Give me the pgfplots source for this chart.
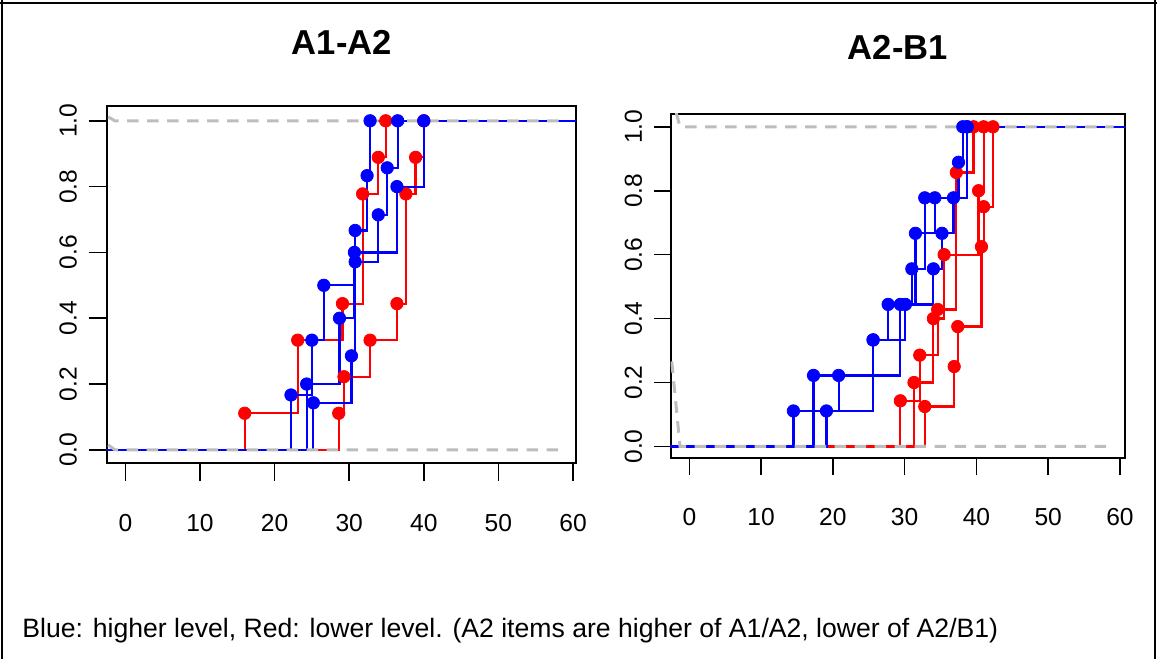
\documentclass[border=0pt]{standalone}
\usepackage{pgfplots}
\pgfplotsset{compat=1.18}
\usepackage{pgfplotstable}
\usepackage{fontspec}
\setmainfont{Liberation Sans}

\definecolor{gray70}{rgb}{0.74,0.74,0.74}

% ---- A1-A2: ecdf steps (x = score, y = cumulative share) ----
\pgfplotstableread{
x y
-5 0
16.0 0.1111
23.1 0.3333
29.1 0.4444
31.8 0.7778
33.9 0.8889
34.9 1
65 1
}\aRedA
\pgfplotstableread{
x y
-5 0
28.6 0.1111
29.3 0.2222
32.8 0.3333
36.4 0.4444
37.6 0.7778
38.9 0.8889
40.0 1
65 1
}\aRedB
\pgfplotstableread{
x y
-5 0
22.2 0.1667
25.0 0.3333
26.6 0.5
30.8 0.6667
32.4 0.8333
32.8 1
65 1
}\aBlueA
\pgfplotstableread{
x y
-5 0
24.3 0.2
28.7 0.4
30.7 0.6
36.4 0.8
40.0 1
65 1
}\aBlueB
\pgfplotstableread{
x y
-5 0
25.2 0.1429
30.3 0.2857
30.8 0.5714
33.9 0.7143
35.1 0.8571
36.5 1
65 1
}\aBlueC

% ---- A2-B1 ----
\pgfplotstableread{
x y
-5 0
29.4 0.1429
32.1 0.2857
34.6 0.4286
37.2 0.8571
39.6 1
65 1
}\bRedA
\pgfplotstableread{
x y
-5 0
31.3 0.2
34.0 0.4
35.5 0.6
40.3 0.8
41.0 1
65 1
}\bRedB
\pgfplotstableread{
x y
-5 0
32.8 0.125
36.9 0.25
37.4 0.375
40.7 0.625
41.0 0.75
42.3 1
65 1
}\bRedC
\pgfplotstableread{
x y
-5 0
14.5 0.1111
25.6 0.3333
27.7 0.4444
31.0 0.5556
32.8 0.7778
37.5 0.8889
38.1 1
65 1
}\bBlueA
\pgfplotstableread{
x y
-5 0
17.3 0.2222
25.6 0.3333
30.1 0.4444
34.0 0.5556
35.2 0.6667
36.8 0.7778
38.7 1
65 1
}\bBlueB
\pgfplotstableread{
x y
-5 0
19.1 0.1111
20.8 0.2222
29.4 0.4444
31.5 0.6667
34.2 0.7778
38.7 1
65 1
}\bBlueC

\pgfplotsset{
  rbox/.style={
    scale only axis,
    axis line style={line width=0.9pt},
    tick align=outside,
    xtick pos=left, ytick pos=left,
    major tick length=9pt,
    tick style={line width=0.8pt, black},
    xtick={0,10,20,30,40,50,60},
    xticklabels={0,10,20,30,40,50,60},
    ytick={0,0.2,0.4,0.6,0.8,1},
    yticklabels={0.0,0.2,0.4,0.6,0.8,1.0},
    ticklabel style={font=\fontsize{12.3}{14}\selectfont},
    xticklabel style={anchor=base, yshift=-25pt},
    yticklabel style={xshift=-6pt, rotate=90, anchor=base},
    title style={font=\bfseries\fontsize{17.3}{20}\selectfont, anchor=base},
  },
  step/.style={const plot, line width=1.1pt, draw=#1, mark=none},
  dots/.style={only marks, mark=*, mark size=3.1pt,
    mark options={fill=#1, draw=#1}, restrict x to domain=0:60},
  ref01/.style={gray70, line width=1.5pt, dash pattern=on 5.8pt off 4.2pt, mark=none},
}

\begin{document}
\begin{tikzpicture}
\path[use as bounding box] (0,0) rectangle (578.5pt,329.5pt);
\draw[line width=1.4pt] (0,328pt) -- (578.5pt,328pt);
\draw[line width=1pt] (1pt,0) -- (1pt,329.5pt);
\draw[line width=1pt] (577.6pt,0) -- (577.6pt,329.5pt);

\begin{axis}[rbox,
  at={(53.35pt,98pt)}, anchor=south west,
  width=234.65pt, height=178.5pt,
  xmin=-2.5, xmax=60.4, ymin=-0.04, ymax=1.045,
  title={A1-A2}, title style={at={(0.501,1.112)}},
]
\addplot[step=red] table {\aRedA};
\addplot[step=red] table {\aRedB};
\addplot[step=blue] table {\aBlueA};
\addplot[step=blue] table {\aBlueB};
\addplot[step=blue] table {\aBlueC};
\addplot[dots=red] table {\aRedA};
\addplot[dots=red] table {\aRedB};
\addplot[dots=blue] table {\aBlueA};
\addplot[dots=blue] table {\aBlueB};
\addplot[dots=blue] table {\aBlueC};
\addplot[ref01] coordinates {(-2.3,0.015) (-1.4,0) (58.6,0)};
\addplot[ref01] coordinates {(-2.3,1.012) (-1.4,1) (58.6,1)};
\end{axis}

\begin{axis}[rbox,
  at={(335.35pt,100.35pt)}, anchor=south west,
  width=227.15pt, height=172.15pt,
  xmin=-2.6, xmax=60.7, ymin=-0.037, ymax=1.04,
  major tick length=8.4pt,
  title={A2-B1}, title style={at={(0.5,1.122)}},
]
\addplot[step=red] table {\bRedA};
\addplot[step=red] table {\bRedB};
\addplot[step=red] table {\bRedC};
\addplot[step=blue] table {\bBlueA};
\addplot[step=blue] table {\bBlueB};
\addplot[step=blue] table {\bBlueC};
\addplot[dots=red] table {\bRedA};
\addplot[dots=red] table {\bRedB};
\addplot[dots=red] table {\bRedC};
\addplot[dots=blue] table {\bBlueA};
\addplot[dots=blue] table {\bBlueB};
\addplot[dots=blue] table {\bBlueC};
\addplot[ref01] coordinates {(-2.45,0.266) (-1.3,0) (59.1,0)};
\addplot[ref01] coordinates {(-1.85,1.045) (-1.3,1) (59.1,1)};
\end{axis}

\node[anchor=base west, inner sep=0pt, font=\fontsize{13.3}{15}\selectfont] at (11pt,11pt)
  {Blue: higher level, Red: lower level. (A2 items are higher of A1/A2, lower of A2/B1)};
\end{tikzpicture}
\end{document}
